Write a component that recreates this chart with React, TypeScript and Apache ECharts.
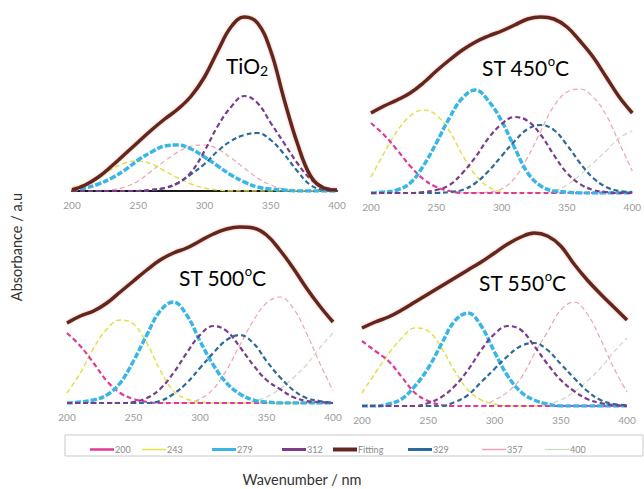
import React, { useEffect, useRef } from "react";
import * as echarts from "echarts";

// Wavelength grid (nm)
const WAVELENGTH = [200, 210, 220, 230, 240, 250, 260, 270, 280, 290, 300, 310, 320, 330, 340, 350, 360, 370, 380, 390, 400];
const X_TICKS = [200, 250, 300, 350, 400];
const LEGEND_NAMES = ["200", "243", "279", "312", "Fitting", "329", "357", "400"];

// TiO2 panel (absorbance, a.u.)
const TIO2_FIT = [1, 6, 14, 25, 37, 49, 61, 72, 82, 95, 114, 140, 164, 174, 168, 140, 92, 48, 15, 3, 1];
const TIO2_C200: number[] = [];
const TIO2_C243 = [3, 7, 14, 22, 28, 30, 27, 20, 13, 7, 3, 1, 0, 0, 0, 0, 0, 0, 0, 0, 0];
const TIO2_C279 = [1, 3, 7, 13, 21, 31, 39, 45, 46, 42, 34, 25, 16, 9, 4, 2, 1, 0, 0, 0, 0];
const TIO2_C312 = [0, 0, 0, 0, 0, 0, 1, 3, 8, 19, 40, 65, 84, 95, 88, 68, 48, 28, 12, 4, 1];
const TIO2_C329 = [0, 0, 0, 0, 0, 0, 1, 3, 8, 17, 27, 40, 50, 56, 58, 51, 37, 20, 6, 1, 0];
const TIO2_C357 = [0, 0, 0, 1, 4, 10, 20, 30, 39, 45, 46, 42, 33, 23, 13, 6, 2, 0, 0, 0, 0];
const TIO2_C400: number[] = [];

// ST 450 °C panel
const ST450_FIT = [80, 87, 93, 100, 110, 122, 133, 143, 151, 157, 162, 168, 174, 176, 174, 166, 152, 136, 116, 96, 80];
const ST450_C200 = [70, 58, 43, 27, 14, 6, 2, 0, 0, 0, 0, 0, 0, 0, 0, 0, 0, 0, 0, 0, 0];
const ST450_C243 = [16, 40, 62, 77, 83, 78, 62, 38, 18, 6, 1, 0, 0, 0, 0, 0, 0, 0, 0, 0, 0];
const ST450_C279 = [0, 1, 3, 10, 27, 50, 75, 95, 103, 92, 72, 45, 20, 7, 2, 1, 0, 0, 0, 0, 0];
const ST450_C312 = [0, 0, 0, 0, 1, 3, 8, 20, 36, 55, 69, 76, 72, 58, 38, 20, 9, 3, 1, 0, 0];
const ST450_C329 = [0, 0, 0, 0, 0, 0, 1, 3, 10, 22, 37, 52, 64, 68, 63, 48, 30, 15, 6, 2, 1];
const ST450_C357 = [0, 0, 0, 0, 0, 0, 0, 0, 0, 1, 4, 15, 36, 62, 87, 101, 104, 96, 78, 50, 22];
const ST450_C400 = [0, 0, 0, 0, 0, 0, 0, 0, 0, 0, 0, 0, 0, 0, 2, 8, 18, 30, 42, 55, 62];

// ST 500 °C panel
const ST500_FIT = [80, 87, 92, 100, 111, 122, 133, 143, 150, 155, 162, 169, 174, 176, 175, 168, 153, 135, 115, 97, 81];
const ST500_C200 = [70, 57, 40, 22, 10, 4, 1, 0, 0, 0, 0, 0, 0, 0, 0, 0, 0, 0, 0, 0, 0];
const ST500_C243 = [10, 30, 55, 74, 83, 79, 60, 33, 12, 4, 1, 0, 0, 0, 0, 0, 0, 0, 0, 0, 0];
const ST500_C279 = [0, 1, 3, 8, 20, 42, 68, 92, 101, 88, 62, 38, 20, 9, 3, 1, 0, 0, 0, 0, 0];
const ST500_C312 = [0, 0, 0, 0, 0, 1, 5, 14, 30, 50, 68, 77, 72, 56, 38, 23, 14, 6, 2, 1, 0];
const ST500_C329 = [0, 0, 0, 0, 0, 0, 0, 2, 9, 20, 35, 50, 63, 68, 60, 42, 26, 13, 5, 2, 0];
const ST500_C357 = [0, 0, 0, 0, 0, 0, 0, 0, 0, 0, 4, 14, 33, 58, 82, 100, 106, 95, 70, 40, 12];
const ST500_C400 = [0, 0, 0, 0, 0, 0, 0, 0, 0, 0, 0, 0, 0, 0, 2, 6, 14, 25, 38, 55, 70];

// ST 550 °C panel
const ST550_FIT = [78, 84, 89, 96, 104, 112, 120, 128, 136, 144, 153, 162, 169, 173, 170, 160, 142, 126, 112, 99, 86];
const ST550_C200 = [65, 55, 45, 29, 13, 5, 1, 0, 0, 0, 0, 0, 0, 0, 0, 0, 0, 0, 0, 0, 0];
const ST550_C243 = [13, 33, 52, 68, 78, 75, 58, 35, 16, 6, 2, 0, 0, 0, 0, 0, 0, 0, 0, 0, 0];
const ST550_C279 = [0, 0, 2, 7, 20, 38, 62, 85, 93, 80, 54, 30, 14, 6, 2, 0, 0, 0, 0, 0, 0];
const ST550_C312 = [0, 0, 0, 0, 0, 3, 9, 20, 36, 56, 72, 80, 76, 60, 42, 26, 15, 7, 3, 1, 0];
const ST550_C329 = [0, 0, 0, 0, 0, 0, 0, 4, 11, 24, 37, 50, 60, 63, 56, 42, 28, 15, 6, 2, 1];
const ST550_C357 = [0, 0, 0, 0, 0, 0, 0, 0, 0, 0, 6, 14, 28, 52, 74, 96, 104, 92, 67, 38, 14];
const ST550_C400 = [0, 0, 0, 0, 0, 0, 0, 0, 0, 0, 0, 0, 0, 0, 2, 6, 14, 25, 38, 54, 68];

const STYLE: Record<string, { color: string; width: number; type: any; legendWidth: number }> = {
  "200": { color: "#e0399a", width: 2.2, type: [5, 3], legendWidth: 2.5 },
  "243": { color: "#e2e04a", width: 1.5, type: [5, 3], legendWidth: 1.5 },
  "279": { color: "#38b6e6", width: 3.5, type: [6, 2], legendWidth: 3 },
  "312": { color: "#7b3c8c", width: 2.2, type: [5, 3], legendWidth: 3 },
  "Fitting": { color: "#62281f", width: 3.5, type: "solid", legendWidth: 4 },
  "329": { color: "#2d6a9c", width: 2.2, type: [5, 3], legendWidth: 3 },
  "357": { color: "#f0a2b2", width: 1.2, type: [5, 3], legendWidth: 1.5 },
  "400": { color: "#c6dac2", width: 1.2, type: [5, 3], legendWidth: 1.2 },
};

const LEGEND_LEFT = [85, 137, 207, 277, 328, 403, 477, 540];

const FONT = "Lato, 'Open Sans', sans-serif";

export default function App() {
  const ref = useRef<HTMLDivElement>(null);
  useEffect(() => {
    if (!ref.current) return;
    const chart = echarts.init(ref.current, null, { renderer: "svg" });

    const panels = [
      { grid: { left: 72, top: 15, width: 265, height: 176 }, baseline: true,
        comps: { "200": TIO2_C200, "243": TIO2_C243, "279": TIO2_C279, "312": TIO2_C312, "329": TIO2_C329, "357": TIO2_C357, "400": TIO2_C400 }, fit: TIO2_FIT },
      { grid: { left: 371, top: 15, width: 266, height: 178 }, baseline: false,
        comps: { "200": ST450_C200, "243": ST450_C243, "279": ST450_C279, "312": ST450_C312, "329": ST450_C329, "357": ST450_C357, "400": ST450_C400 }, fit: ST450_FIT },
      { grid: { left: 67, top: 225, width: 266, height: 178 }, baseline: false,
        comps: { "200": ST500_C200, "243": ST500_C243, "279": ST500_C279, "312": ST500_C312, "329": ST500_C329, "357": ST500_C357, "400": ST500_C400 }, fit: ST500_FIT },
      { grid: { left: 362, top: 228, width: 265, height: 178 }, baseline: false,
        comps: { "200": ST550_C200, "243": ST550_C243, "279": ST550_C279, "312": ST550_C312, "329": ST550_C329, "357": ST550_C357, "400": ST550_C400 }, fit: ST550_FIT },
    ];

    const pairs = (ys: number[]) => ys.map((y, i) => [WAVELENGTH[i], y]);

    const grids: any[] = [];
    const xAxes: any[] = [];
    const yAxes: any[] = [];
    const series: any[] = [];
    panels.forEach((p, idx) => {
      grids.push(p.grid);
      xAxes.push({
        type: "value", gridIndex: idx, min: X_TICKS[0], max: X_TICKS[X_TICKS.length - 1], interval: 50,
        axisLine: { show: p.baseline, onZero: false, lineStyle: { color: "#1a1a1a", width: 2 } },
        axisTick: { show: false }, splitLine: { show: false },
        axisLabel: { color: "#9a9a9a", fontSize: 10, fontFamily: FONT, margin: 9 },
      });
      yAxes.push({ type: "value", gridIndex: idx, min: 0, max: p.grid.height, show: false, splitLine: { show: false } });
      const order = ["400", "357", "243", "200", "279", "329", "312"];
      order.forEach((name) => {
        const st = STYLE[name];
        series.push({
          type: "line", name, xAxisIndex: idx, yAxisIndex: idx, smooth: 0.4, symbol: "none",
          data: pairs((p.comps as any)[name]),
          lineStyle: { color: st.color, width: st.width, type: st.type },
          itemStyle: { color: st.color }, z: 2,
        });
      });
      const fs = STYLE["Fitting"];
      series.push({
        type: "line", name: "Fitting", xAxisIndex: idx, yAxisIndex: idx, smooth: 0.4, symbol: "none",
        data: pairs(p.fit),
        lineStyle: { color: fs.color, width: fs.width, shadowColor: "rgba(200,70,50,0.45)", shadowBlur: 2 },
        itemStyle: { color: fs.color }, z: 3,
      });
    });

    const legends = LEGEND_NAMES.map((name, i) => ({
      data: [name], left: LEGEND_LEFT[i], top: 440, itemWidth: 24, itemHeight: STYLE[name].legendWidth,
      icon: "rect", selectedMode: false,
      itemStyle: { color: STYLE[name].color, borderWidth: 0 },
      textStyle: { color: "#8a8a8a", fontSize: 9, fontFamily: FONT, padding: [0, 0, 0, -4] },
    }));

    const titleRich = {
      a: { fontSize: 21, fontFamily: FONT, color: "#1e1e1e", lineHeight: 26 },
      s: { fontSize: 13, fontFamily: FONT, color: "#1e1e1e", verticalAlign: "top", lineHeight: 26, padding: [0, 0, 10, 0] },
      b: { fontSize: 14, fontFamily: FONT, color: "#1e1e1e", lineHeight: 26, padding: [10, 0, 0, 0] },
    };

    chart.setOption({
      animation: false,
      backgroundColor: "#ffffff",
      grid: grids,
      xAxis: xAxes,
      yAxis: yAxes,
      series,
      legend: legends,
      graphic: [
        { type: "rect", shape: { x: 65, y: 435, width: 578, height: 21 }, style: { fill: "none", stroke: "#c9c9c9", lineWidth: 1 }, silent: true },
        { type: "text", x: 226, y: 52, style: { text: "{a|TiO}{b|2}", rich: titleRich } },
        { type: "text", x: 482, y: 54, style: { text: "{a|ST 450}{s|o}{a|C}", rich: titleRich } },
        { type: "text", x: 179, y: 264, style: { text: "{a|ST 500}{s|o}{a|C}", rich: titleRich } },
        { type: "text", x: 479, y: 269, style: { text: "{a|ST 550}{s|o}{a|C}", rich: titleRich } },
        { type: "text", x: 302, y: 479, style: { text: "Wavenumber / nm", fontSize: 14.5, fontFamily: FONT, fill: "#333", align: "center", verticalAlign: "middle" } },
        { type: "text", x: 16, y: 247, rotation: Math.PI / 2, style: { text: "Absorbance / a.u", fontSize: 14.5, fontFamily: FONT, fill: "#333", align: "center", verticalAlign: "middle" } },
      ],
    });
    return () => chart.dispose();
  }, []);
  return <div ref={ref} style={{ position: "fixed", left: 0, top: 0, width: 644, height: 489, background: "#fff" }} />;
}
